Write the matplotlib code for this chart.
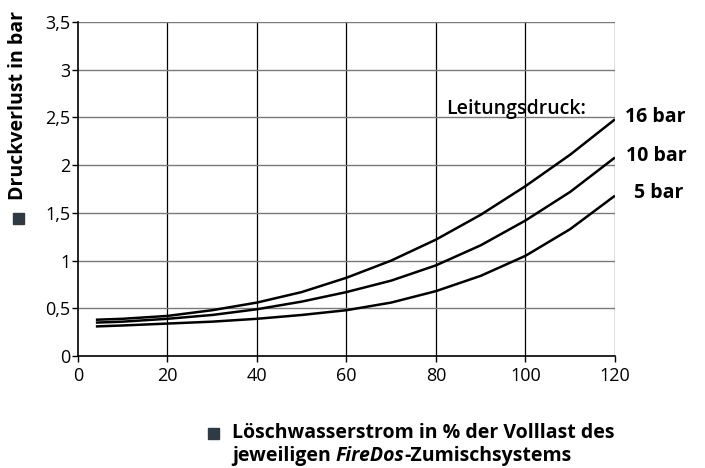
import matplotlib
matplotlib.use("Agg")
import matplotlib.pyplot as plt

plt.rcParams["font.family"] = ["Open Sans", "DejaVu Sans"]

DARK = "#2e3a44"

# Löschwasserstrom in % der Volllast
flow = [4, 10, 20, 30, 40, 50, 60, 70, 80, 90, 100, 110, 120]
# Druckverlust in bar je Leitungsdruck
loss_16 = [0.38, 0.39, 0.42, 0.48, 0.56, 0.67, 0.82, 1.00, 1.22, 1.48, 1.78, 2.11, 2.48]
loss_10 = [0.35, 0.36, 0.39, 0.43, 0.49, 0.57, 0.67, 0.79, 0.95, 1.16, 1.42, 1.72, 2.08]
loss_5 = [0.31, 0.32, 0.34, 0.36, 0.39, 0.43, 0.48, 0.56, 0.68, 0.84, 1.05, 1.33, 1.68]
curve_labels = ["16 bar", "10 bar", "5 bar"]
x_ticks = [0, 20, 40, 60, 80, 100, 120]
y_ticks = [0, 0.5, 1, 1.5, 2, 2.5, 3, 3.5]
y_ticklabels = ["0", "0,5", "1", "1,5", "2", "2,5", "3", "3,5"]

fig = plt.figure(figsize=(7.05, 4.68), dpi=100, facecolor="white")
ax = fig.add_axes([0.1106, 0.2393, 0.7617, 0.7137])

ax.set_xlim(0, 120)
ax.set_ylim(0, 3.5)
ax.set_xticks(x_ticks)
ax.set_yticks(y_ticks)
ax.set_yticklabels(y_ticklabels)
ax.tick_params(labelsize=13, length=4, width=1, color="black")
ax.tick_params(axis="x", pad=4)
ax.tick_params(axis="y", pad=1.5)

for x in x_ticks[1:]:
    ax.axvline(x, color="black", lw=0.9, zorder=1)
for y in y_ticks[1:]:
    ax.axhline(y, color="#7a7a7a", lw=1.0, zorder=1)
for s in ["top", "right"]:
    ax.spines[s].set_visible(False)
ax.spines["left"].set_linewidth(1.2)
ax.spines["bottom"].set_linewidth(1.2)

for vals in (loss_16, loss_10, loss_5):
    ax.plot(flow, vals, color="black", lw=1.8, zorder=3, solid_capstyle="butt")

ax.text(82.2, 2.59, "Leitungsdruck:", fontsize=14, fontweight="semibold", va="center", ha="left")
for lab, xx, yy in zip(curve_labels, [122.2, 122.4, 124.2], [2.505, 2.10, 1.71]):
    ax.text(xx, yy, lab, fontsize=14, fontweight="bold", va="center", ha="left", clip_on=False)

# y axis label with square
fig.text(18 / 705, 1 - 200 / 468, "Druckverlust in bar", rotation=90, fontsize=14,
         fontweight="bold", ha="center", va="bottom")
fig.patches.append(plt.Rectangle((13 / 705, 1 - 224 / 468), 11 / 705, 11 / 468,
                                 transform=fig.transFigure, color=DARK, figure=fig))

# x axis label with square
fig.patches.append(plt.Rectangle((208 / 705, 1 - 439 / 468), 11 / 705, 11 / 468,
                                 transform=fig.transFigure, color=DARK, figure=fig))
fig.text(232 / 705, 1 - 438 / 468, "Löschwasserstrom in % der Volllast des", fontsize=14,
         fontweight="bold", ha="left", va="baseline")
t1 = fig.text(232 / 705, 1 - 461 / 468, "jeweiligen ", fontsize=14, fontweight="bold",
              ha="left", va="baseline")
t2 = fig.text(0, 0, "FireDos", fontsize=14, fontweight="bold", fontstyle="italic",
              ha="left", va="baseline")
t3 = fig.text(0, 0, "-Zumischsystems", fontsize=14, fontweight="bold", ha="left", va="baseline")

r = fig.canvas.get_renderer()
inv = fig.transFigure.inverted()


def place_after(prev, nxt):
    bb = prev.get_window_extent(r)
    nxt.set_position((inv.transform((bb.x1, 0))[0], prev.get_position()[1]))


place_after(t1, t2)
place_after(t2, t3)

fig.savefig("out.png", dpi=100, facecolor="white")
